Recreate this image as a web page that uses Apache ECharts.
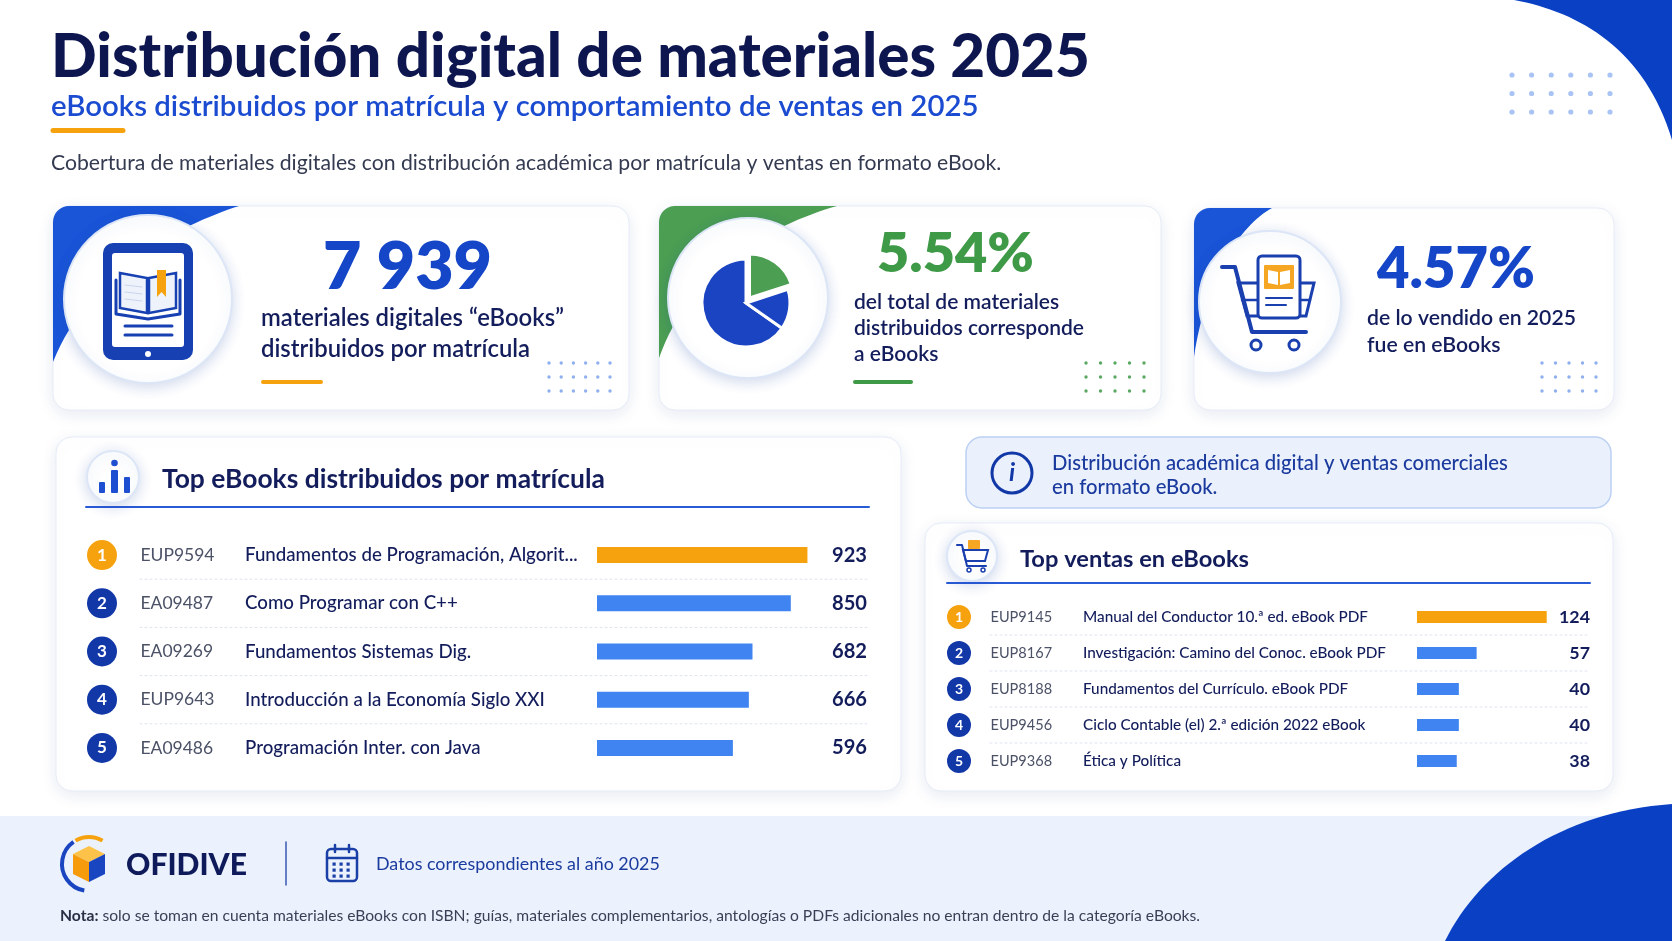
<!DOCTYPE html>
<html><head><meta charset="utf-8">
<script src="https://cdn.jsdelivr.net/npm/echarts@6/dist/echarts.min.js"></script>
<style>html,body{margin:0;padding:0;background:#fff}#c{width:1672px;height:941px}</style>
</head><body><div id="c"></div>
<script>
// ---------- DATA ----------
const rankLabels = ['1', '2', '3', '4', '5'];
const distCodes = ['EUP9594', 'EA09487', 'EA09269', 'EUP9643', 'EA09486'];
const distTitles = ['Fundamentos de Programación, Algorit...', 'Como Programar con C++', 'Fundamentos Sistemas Dig.', 'Introducción a la Economía Siglo XXI', 'Programación Inter. con Java'];
const distValues = [923, 850, 682, 666, 596];
const saleCodes = ['EUP9145', 'EUP8167', 'EUP8188', 'EUP9456', 'EUP9368'];
const saleTitles = ['Manual del Conductor 10.ª ed. eBook PDF', 'Investigación: Camino del Conoc. eBook PDF', 'Fundamentos del Currículo. eBook PDF', 'Ciclo Contable (el) 2.ª edición 2022 eBook', 'Ética y Política'];
const saleValues = [124, 57, 40, 40, 38];
const kpiValues = ['7 939', '5.54%', '4.57%'];
const kpiLines = [
  ['materiales digitales “eBooks”', 'distribuidos por matrícula'],
  ['del total de materiales', 'distribuidos corresponde', 'a eBooks'],
  ['de lo vendido en 2025', 'fue en eBooks']
];
const titleText = 'Distribución digital de materiales 2025';
const subtitleText = 'eBooks distribuidos por matrícula y comportamiento de ventas en 2025';
const descText = 'Cobertura de materiales digitales con distribución académica por matrícula y ventas en formato eBook.';
const infoLines = ['Distribución académica digital y ventas comerciales', 'en formato eBook.'];
const panel1Title = 'Top eBooks distribuidos por matrícula';
const panel2Title = 'Top ventas en eBooks';
const brandText = 'OFIDIVE';
const datosText = 'Datos correspondientes al año 2025';
const notaLabel = 'Nota:';
const notaText = ' solo se toman en cuenta materiales eBooks con ISBN; guías, materiales complementarios, antologías o PDFs adicionales no entran dentro de la categoría eBooks.';

// ---------- HELPERS ----------
const FAM = 'Lato';
const mctx = document.createElement('canvas').getContext('2d');
function fit(text, weight, target) { mctx.font = weight + ' 100px ' + FAM; return +(100 * target / mctx.measureText(text).width).toFixed(2); }
function T(text, x, base, size, weight, color, align, extra) {
  align = align || 'left';
  return { type: 'text', x: x, y: base - 0.37 * size, silent: true, z: 5,
    style: Object.assign({ text: text, fill: color, font: weight + ' ' + size + 'px ' + FAM, fontSize: size, fontWeight: weight, fontFamily: FAM,
      align: align, textAlign: align, verticalAlign: 'middle', textVerticalAlign: 'middle' }, extra || {}) };
}
function R(x, y, w, h, r, style, z) { return { type: 'rect', silent: true, z: z || 1, shape: { x: x, y: y, width: w, height: h, r: r }, style: style }; }
function C(cx, cy, r, style, z) { return { type: 'circle', silent: true, z: z || 2, shape: { cx: cx, cy: cy, r: r }, style: style }; }
function L(x1, y1, x2, y2, stroke, lw, dash, z) { return { type: 'line', silent: true, z: z || 3, shape: { x1: x1, y1: y1, x2: x2, y2: y2 }, style: { stroke: stroke, lineWidth: lw, lineDash: dash || null, lineCap: 'round' } }; }
function PG(points, style, z) { return { type: 'polygon', silent: true, z: z || 2, shape: { points: points }, style: style }; }
function PL(points, stroke, lw, z) { return { type: 'polyline', silent: true, z: z || 3, shape: { points: points }, style: { stroke: stroke, lineWidth: lw, fill: null, lineJoin: 'round', lineCap: 'round' } }; }
function cubic(p0, p1, p2, p3, n) { n = n || 32; const a = []; for (let i = 0; i <= n; i++) { const t = i / n, u = 1 - t;
  a.push([u*u*u*p0[0] + 3*u*u*t*p1[0] + 3*u*t*t*p2[0] + t*t*t*p3[0], u*u*u*p0[1] + 3*u*u*t*p1[1] + 3*u*t*t*p2[1] + t*t*t*p3[1]]); } return a; }
function corner(x0, y0, rad, xTop, yLeft, c1, c2, fill) {
  const pts = [[x0, yLeft], [x0, y0 + rad]];
  for (let i = 0; i <= 8; i++) { const a = Math.PI + i / 8 * Math.PI / 2; pts.push([x0 + rad + rad * Math.cos(a), y0 + rad + rad * Math.sin(a)]); }
  pts.push([xTop, y0]);
  return PG(pts.concat(cubic([xTop, y0], c1, c2, [x0, yLeft])), { fill: fill }, 2);
}
function dots(x0, y0, cols, rows, dx, dy, r, color) { const a = []; for (let j = 0; j < rows; j++) for (let i = 0; i < cols; i++) a.push(C(x0 + i * dx, y0 + j * dy, r, { fill: color }, 3)); return a; }

// ---------- COLORS ----------
const NAVY = '#131d5c', BLUE = '#1546c8', DARKBLUE = '#1238a8', ORANGE = '#f6a20f', GREEN = '#3f9a48', BARBLUE = '#3f84f0';
const cardStyle = { fill: '#fff', stroke: '#e6ecf7', lineWidth: 1, shadowBlur: 16, shadowOffsetY: 4, shadowColor: 'rgba(30,60,140,0.10)' };
const iconCircle = { fill: '#fff', stroke: '#dce6f7', lineWidth: 2, shadowBlur: 14, shadowOffsetY: 3, shadowColor: 'rgba(30,70,160,0.20)' };

// ---------- FONT SIZES (fit to the layout widths) ----------
const S = {
  title: fit(titleText, 900, 1039), sub: fit(subtitleText, 600, 928), desc: fit(descText, 400, 951),
  k1: fit(kpiValues[0], 800, 169), c1: fit(kpiLines[0][0], 600, 303),
  k2: fit(kpiValues[1], 800, 157), c2: fit(kpiLines[1][1], 600, 230),
  k3: fit(kpiValues[2], 800, 158), c3: fit(kpiLines[2][0], 600, 209),
  info: fit(infoLines[0], 500, 456), p1t: fit(panel1Title, 700, 443), p2t: fit(panel2Title, 700, 229),
  p1code: fit(distCodes[0], 400, 74), p1title: fit(distTitles[0], 500, 333), p1val: fit(String(distValues[0]), 700, 35),
  p2code: fit(saleCodes[1], 400, 61.6), p2title: fit(saleTitles[1], 500, 303), p2val: fit(String(saleValues[0]), 700, 31),
  brand: fit(brandText, 900, 121), datos: fit(datosText, 400, 284), nota: fit(notaLabel + notaText, 400, 1140)
};

// ---------- GRAPHIC ----------
const g = [];
// corner decorations & footer
g.push(R(0, 816, 1672, 125, 0, { fill: '#ebf2fd' }, 0));
g.push(PG([[1445, 941]].concat(cubic([1445, 941], [1480, 870], [1560, 812], [1672, 804])).concat([[1672, 941]]), { fill: '#0a40c4' }, 1));
g.push(PG([[1514, 0]].concat(cubic([1514, 0], [1580, 12], [1645, 50], [1672, 140])).concat([[1672, 0]]), { fill: '#0a40c4' }, 1));
g.push.apply(g, dots(1512, 75, 6, 3, 19.6, 18.5, 2.6, '#a9c4f4'));

// header texts
g.push(T(titleText, 51, 80, S.title, 900, '#0e1650'));
g.push(T(subtitleText, 51, 117, S.sub, 600, '#1a4bd0'));
g.push(L(53, 130.5, 123, 130.5, ORANGE, 5));
g.push(T(descText, 51, 171, S.desc, 400, '#343a50'));

// ---- Card 1 ----
g.push(R(53, 206, 576, 204, 16, cardStyle, 1));
g.push(corner(53, 206, 16, 239, 362, [180, 225], [90, 270], '#1a55d8'));
g.push(C(148, 299, 84, iconCircle, 3));
// tablet icon
g.push(R(103, 243, 90, 117, 10, { fill: '#1741b2' }, 4));
g.push(R(112, 253, 72, 94, 3, { fill: '#fff' }, 4));
g.push(C(148, 354, 3, { fill: '#fff' }, 5));
g.push(PG([[120, 273], [147, 278], [147, 313], [120, 308]], { fill: '#eef3fb', stroke: '#1741b2', lineWidth: 2.5 }, 5));
g.push(PG([[149, 278], [176, 273], [176, 308], [149, 313]], { fill: '#eef3fb', stroke: '#1741b2', lineWidth: 2.5 }, 5));
g.push(PL([[116, 280], [116, 314], [148, 319], [180, 314], [180, 280]], '#1741b2', 3, 5));
g.push(PG([[157, 270], [166, 270], [166, 297], [161.5, 292], [157, 297]], { fill: ORANGE }, 6));
[285, 292, 299].forEach(function (y) { g.push(L(125, y, 142, y + 2, '#c9d5ec', 1.2, null, 6)); });
g.push(L(125, 326, 172, 326, '#1741b2', 3, null, 5));
g.push(L(125, 335, 172, 335, '#1741b2', 3, null, 5));
// texts
g.push(T(kpiValues[0], 323, 292, S.k1, 800, BLUE));
g.push(T(kpiLines[0][0], 261, 327, S.c1, 600, NAVY));
g.push(T(kpiLines[0][1], 261, 358, S.c1, 600, NAVY));
g.push(L(263, 382, 321, 382, ORANGE, 4));
g.push.apply(g, dots(549, 363, 6, 3, 12.2, 14, 1.7, '#8fb0ee'));

// ---- Card 2 ----
g.push(R(659, 206, 502, 204, 16, cardStyle, 1));
g.push(corner(659, 206, 16, 837, 358, [770, 225], [690, 270], '#4c9f52'));
g.push(C(748, 298, 80, iconCircle, 3));
(function () {
  const cx = 746, cy = 303, r = 44, d = Math.PI / 180;
  g.push({ type: 'sector', silent: true, z: 5, shape: { cx: cx, cy: cy, r: r, startAngle: 35 * d, endAngle: 270 * d, clockwise: true }, style: { fill: '#1a44c2', stroke: '#fff', lineWidth: 3 } });
  g.push({ type: 'sector', silent: true, z: 5, shape: { cx: cx, cy: cy, r: r, startAngle: -18 * d, endAngle: 35 * d, clockwise: true }, style: { fill: '#1a44c2', stroke: '#fff', lineWidth: 3 } });
  g.push({ type: 'sector', silent: true, z: 5, shape: { cx: cx + 3.5, cy: cy - 5, r: r, startAngle: -90 * d, endAngle: -18 * d, clockwise: true }, style: { fill: '#4c9f52', stroke: '#fff', lineWidth: 3 } });
})();
g.push(T(kpiValues[1], 877, 275, S.k2, 800, GREEN));
kpiLines[1].forEach(function (t, i) { g.push(T(t, 854, 310 + i * 26, S.c2, 600, NAVY)); });
g.push(L(855, 382, 911, 382, GREEN, 4));
g.push.apply(g, dots(1086, 363, 5, 3, 14.5, 14, 1.7, '#5aa862'));

// ---- Card 3 ----
g.push(R(1194, 208, 420, 202, 16, cardStyle, 1));
g.push(corner(1194, 208, 16, 1272, 357, [1240, 225], [1205, 280], '#1a55d8'));
g.push(C(1270, 302, 71, iconCircle, 3));
(function () {
  const c = '#1a3fae';
  g.push(PG([[1238, 283], [1314, 283], [1306, 316], [1247, 316]], { fill: '#fff', stroke: c, lineWidth: 3 }, 4));
  g.push(L(1242, 300, 1310, 300, c, 2.5, null, 4));
  g.push(PL([[1222, 267], [1235, 267], [1252, 332], [1306, 332]], c, 4, 4));
  g.push(R(1258, 256, 42, 62, 4, { fill: '#fff', stroke: c, lineWidth: 3 }, 5));
  g.push(R(1264, 265, 30, 24, 1, { fill: '#f5a623' }, 6));
  g.push(PG([[1268, 270], [1278, 272], [1278, 285], [1268, 283]], { fill: '#fff' }, 7));
  g.push(PG([[1280, 272], [1290, 270], [1290, 283], [1280, 285]], { fill: '#fff' }, 7));
  g.push(L(1266, 298, 1292, 298, c, 2, null, 6));
  g.push(L(1266, 305, 1286, 305, c, 2, null, 6));
  g.push(C(1256, 345, 5, { fill: '#fff', stroke: c, lineWidth: 3 }, 5));
  g.push(C(1294, 345, 5, { fill: '#fff', stroke: c, lineWidth: 3 }, 5));
})();
g.push(T(kpiValues[2], 1377, 291, S.k3, 800, BLUE));
kpiLines[2].forEach(function (t, i) { g.push(T(t, 1367, 326 + i * 27, S.c3, 600, NAVY)); });
g.push.apply(g, dots(1542, 363, 5, 3, 13.5, 14, 1.7, '#8fb0ee'));

// ---- Info box ----
g.push(R(966, 437, 645, 71, 16, { fill: '#eaf1fd', stroke: '#bcd0f4', lineWidth: 1.5 }, 1));
g.push(C(1012, 473, 20, { fill: 'none', stroke: DARKBLUE, lineWidth: 3 }, 3));
g.push(T('i', 1012, 482, 25, 'italic 700', DARKBLUE, 'center', { font: 'italic 700 25px "DejaVu Serif", serif' }));
g.push(T(infoLines[0], 1052, 471, S.info, 500, '#1b3a9e'));
g.push(T(infoLines[1], 1052, 495, S.info, 500, '#1b3a9e'));

// ---- Panel 1 ----
g.push(R(56, 437, 845, 354, 16, cardStyle, 1));
g.push(L(86, 507, 869, 507, '#2a5bd7', 2, null, 2));
g.push(C(113, 477, 26, iconCircle, 3));
g.push(R(99, 482, 6, 11, 1, { fill: '#1e4fd0' }, 4));
g.push(R(111, 470, 7, 23, 1, { fill: '#1e4fd0' }, 4));
g.push(R(124, 477, 6, 16, 1, { fill: '#1e4fd0' }, 4));
g.push(C(114.5, 463, 3.3, { fill: '#1e4fd0' }, 4));
g.push(T(panel1Title, 162, 489, S.p1t, 700, NAVY));

// ---- Panel 2 ----
g.push(R(925, 523, 688, 268, 16, cardStyle, 1));
g.push(L(947, 583, 1590, 583, '#2a5bd7', 2, null, 2));
g.push(C(972, 556, 25, iconCircle, 3));
(function () {
  const c = '#1a3fae';
  g.push(R(968, 540, 12, 9, 1, { fill: '#f5a623' }, 5));
  g.push(PG([[963, 550], [988, 550], [985, 561], [966, 561]], { fill: 'none', stroke: c, lineWidth: 2 }, 5));
  g.push(PL([[957, 545], [962, 545], [967, 566], [986, 566]], c, 2, 5));
  g.push(C(969, 570, 2, { fill: '#fff', stroke: c, lineWidth: 1.5 }, 5));
  g.push(C(983, 570, 2, { fill: '#fff', stroke: c, lineWidth: 1.5 }, 5));
})();
g.push(T(panel2Title, 1020, 568, S.p2t, 700, NAVY));

// ---- Footer ----
(function () {
  g.push({ type: 'arc', silent: true, z: 3, shape: { cx: 89, cy: 864, r: 27, startAngle: 100 * Math.PI / 180, endAngle: 235 * Math.PI / 180, clockwise: true }, style: { stroke: '#1a45c0', lineWidth: 4, fill: null } });
  g.push({ type: 'arc', silent: true, z: 3, shape: { cx: 89, cy: 864, r: 27, startAngle: 240 * Math.PI / 180, endAngle: 300 * Math.PI / 180, clockwise: true }, style: { stroke: ORANGE, lineWidth: 4, fill: null } });
  g.push(PG([[89, 846], [105, 854], [89, 862], [73, 854]], { fill: '#fcc24a' }, 4));
  g.push(PG([[73, 854], [89, 862], [89, 882], [73, 874]], { fill: '#f59b0c' }, 4));
  g.push(PG([[89, 862], [105, 854], [105, 874], [89, 882]], { fill: '#1a45c0' }, 4));
})();
g.push(T(brandText, 126, 876, S.brand, 900, '#0e1a5a'));
g.push(L(286, 842, 286, 885, '#3a57b0', 1.5, null, 2));
(function () {
  const c = '#1a3fa6';
  g.push(R(327, 849, 30, 32, 4, { fill: 'none', stroke: c, lineWidth: 2.5 }, 3));
  g.push(L(327, 858, 357, 858, c, 2.5, null, 3));
  g.push(L(335, 845, 335, 852, c, 2.5, null, 3));
  g.push(L(349, 845, 349, 852, c, 2.5, null, 3));
  [864, 870, 876].forEach(function (y) { [334, 341, 348].forEach(function (x) { g.push(R(x - 1.5, y - 1.5, 3.2, 3.2, 0, { fill: c }, 3)); }); });
})();
g.push(T(datosText, 376, 871, S.datos, 400, '#1b3a9e'));
g.push(T('{b|' + notaLabel + '}' + notaText, 60, 922, S.nota, 400, '#3a3f55', 'left', { rich: { b: { fontWeight: 700, fontSize: S.nota, fontFamily: FAM, fill: '#2a2f45' } } }));

// row separators (decoration between category bands)
function separators(top, height, n, x1, x2) { for (let k = 1; k < n; k++) { const y = top + k * height / n; g.push(L(x1, y, x2, y, '#dde3ef', 1, [2, 3], 2)); } }
const G1 = { left: 597, top: 531, width: 228, height: 241 };
const G2 = { left: 1417, top: 599, width: 136, height: 180 };
separators(G1.top, G1.height, 5, 140, 867);
separators(G2.top, G2.height, 5, 990, 1590);

// ---------- AXES ----------
function cat(gi, labelCfg, pos) {
  return { gridIndex: gi, type: 'category', data: rankLabels, inverse: true, position: pos || 'left', z: 10,
    axisLine: { show: false }, axisTick: { show: false }, splitLine: { show: false },
    axisLabel: Object.assign({ interval: 0, fontFamily: FAM, verticalAlign: 'middle' }, labelCfg) };
}
function rankRich(size, font) {
  const base = { width: size, height: size, lineHeight: size, borderRadius: size / 2, align: 'center', color: '#fff', fontSize: font, fontWeight: 700, fontFamily: FAM };
  return { o: Object.assign({ backgroundColor: ORANGE }, base), n: Object.assign({ backgroundColor: DARKBLUE }, base) };
}
const rankFmt = function (v, i) { return (i === 0 ? '{o|' : '{n|') + v + '}'; };

const yAxes = [
  cat(0, {}),
  cat(0, { margin: G1.left - 102, align: 'center', formatter: rankFmt, rich: rankRich(30, 17) }),
  cat(0, { margin: G1.left - 140.5, align: 'left', color: '#4b5166', fontSize: S.p1code, formatter: function (v, i) { return distCodes[i]; } }),
  cat(0, { margin: G1.left - 245, align: 'left', color: NAVY, fontSize: S.p1title, fontWeight: 500, formatter: function (v, i) { return distTitles[i]; } }),
  cat(0, { margin: 867 - (G1.left + G1.width), align: 'right', color: NAVY, fontSize: S.p1val, fontWeight: 700, formatter: function (v, i) { return String(distValues[i]); } }, 'right'),
  cat(1, {}),
  cat(1, { margin: G2.left - 959, align: 'center', formatter: rankFmt, rich: rankRich(24, 14) }),
  cat(1, { margin: G2.left - 990.5, align: 'left', color: '#4b5166', fontSize: S.p2code, formatter: function (v, i) { return saleCodes[i]; } }),
  cat(1, { margin: G2.left - 1083, align: 'left', color: NAVY, fontSize: S.p2title, fontWeight: 500, formatter: function (v, i) { return saleTitles[i]; } }),
  cat(1, { margin: 1590 - (G2.left + G2.width), align: 'right', color: NAVY, fontSize: S.p2val, fontWeight: 700, formatter: function (v, i) { return String(saleValues[i]); } }, 'right')
];
yAxes[0].axisLabel.show = false;
yAxes[5].axisLabel.show = false;

const chart = echarts.init(document.getElementById('c'), null, { renderer: 'canvas' });
chart.setOption({
  backgroundColor: '#ffffff',
  animation: false,
  textStyle: { fontFamily: FAM },
  grid: [Object.assign({ containLabel: false }, G1), Object.assign({ containLabel: false }, G2)],
  xAxis: [
    { gridIndex: 0, type: 'value', min: 0, max: 1000, show: false },
    { gridIndex: 1, type: 'value', min: 0, max: 130, show: false }
  ],
  yAxis: yAxes,
  graphic: { elements: g },
  series: [
    { type: 'bar', xAxisIndex: 0, yAxisIndex: 0, barWidth: 16, z: 10, silent: true,
      data: distValues.map(function (v, i) { return { value: v, itemStyle: { color: i === 0 ? ORANGE : BARBLUE } }; }) },
    { type: 'bar', xAxisIndex: 1, yAxisIndex: 5, barWidth: 12, z: 10, silent: true,
      data: saleValues.map(function (v, i) { return { value: v, itemStyle: { color: i === 0 ? ORANGE : BARBLUE } }; }) }
  ]
});
</script>
</body></html>
